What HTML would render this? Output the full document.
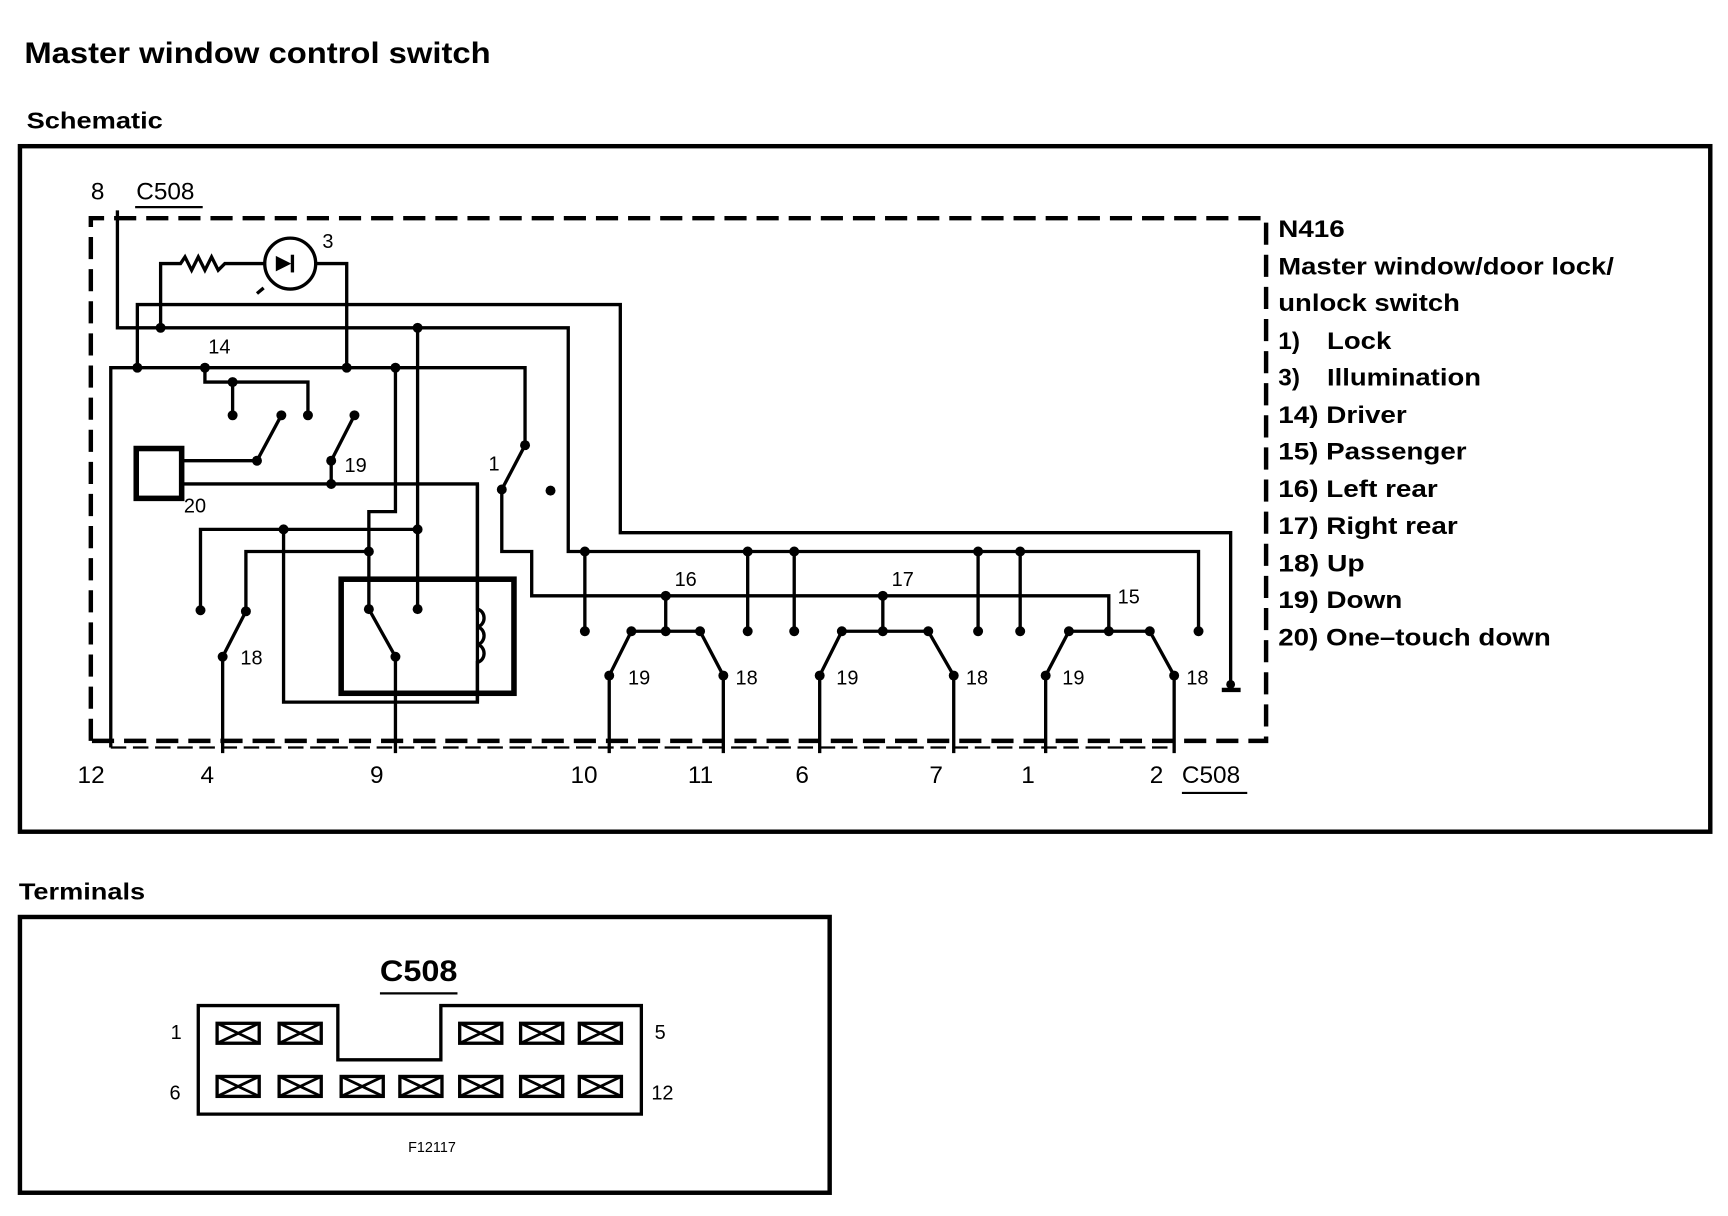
<!DOCTYPE html>
<html><head><meta charset="utf-8"><style>
html,body{margin:0;padding:0;background:#fff;}
svg{display:block;}
text{font-family:"Liberation Sans",Arial,sans-serif;fill:#000;}
.b{font-weight:bold;}
</style></head><body>
<svg width="1728" height="1216" viewBox="0 0 1560 1098" preserveAspectRatio="none" xmlns="http://www.w3.org/2000/svg">
<defs>
<g id="c" fill="none" stroke="#000"><rect x="0" y="0" width="38" height="18" stroke-width="3"/><path d="M0 0 L38 18 M38 0 L0 18" stroke-width="2.5"/></g>
</defs>
<rect width="1560" height="1098" fill="#fff"/>
<text x="22" y="57" class="b" font-size="27" textLength="421" lengthAdjust="spacingAndGlyphs">Master window control switch</text>
<text x="24" y="116" class="b" font-size="21" textLength="123" lengthAdjust="spacingAndGlyphs">Schematic</text>
<rect x="18" y="132" width="1526" height="619" fill="none" stroke="#000" stroke-width="4"/>
<path d="M82 669 V197 H1143 V669 Z" fill="none" stroke="#000" stroke-width="4" stroke-dasharray="20,9"/>
<path d="M100 675 H1060" fill="none" stroke="#000" stroke-width="2" stroke-dasharray="14,6"/>
<text x="82" y="180" font-size="22">8</text>
<text x="123" y="180" font-size="22">C508</text>
<line x1="122" y1="187" x2="183" y2="187" stroke="#000" stroke-width="2"/>
<g fill="none" stroke="#000" stroke-width="3">
<path d="M106 190 V296 H513 V498 H1082 V570"/>
<path d="M145 296 V238 H163 l4 -6 l6 12 l6 -12 l6 12 l6 -12 l6 12 l6 -6 H239"/>
<circle cx="262" cy="238" r="23"/>
<path d="M285 238 H313 V332"/>
<path d="M232 265 l6 -5" stroke-width="3"/>
<path d="M124 332 V275 H560 V481 H1111 V618"/>
<path d="M1103 623 H1120" stroke-width="4"/>
<path d="M100 675 V332 H474 V402"/>
<path d="M185 332 V345 H278 V375"/>
<path d="M210 345 V375"/>
<path d="M232 416 L254 375"/>
<rect x="123" y="405" width="41" height="45" stroke-width="5"/>
<path d="M164 416 H232"/>
<path d="M299 416 L320 375"/>
<path d="M299 416 V437"/>
<path d="M164 437 H431 V634 H256 V478"/>
<path d="M357 332 V462 H333 V550"/>
<path d="M377 296 V550"/>
<path d="M181 550 V478 H377"/>
<path d="M222 552 V498 H333"/>
<path d="M201 593 L222 552"/>
<path d="M201 593 V680"/>
<rect x="308" y="523" width="156" height="103" stroke-width="5"/>
<path d="M333 550 L357 593 V680"/>
<path d="M431 437 V550 c8 2 8 14 0 16 c8 2 8 14 0 16 c8 2 8 14 0 16 V634"/>
<path d="M453 442 L474 402"/>
<path d="M453 442 V498 H480 V538 H1001 V570"/>
<path d="M528 498 V570 M675 498 V570 M717 498 V570 M883 498 V570 M921 498 V570"/>
<path d="M601 538 V570 M570 570 H632 M570 570 L550 610 M632 570 L653 610 M550 610 V680 M653 610 V680"/>
<path d="M797 538 V570 M760 570 H838 M760 570 L740 610 M838 570 L861 610 M740 610 V680 M861 610 V680"/>
<path d="M965 570 H1038 M965 570 L944 610 M1038 570 L1060 610 M944 610 V680 M1060 610 V680"/>
</g>
<polygon points="249,231 249,245 263,238" fill="#000"/>
<line x1="264" y1="230" x2="264" y2="246" stroke="#000" stroke-width="3"/>
<g fill="#000">
<circle cx="145" cy="296" r="4.5"/><circle cx="377" cy="296" r="4.5"/>
<circle cx="124" cy="332" r="4.5"/><circle cx="185" cy="332" r="4.5"/><circle cx="313" cy="332" r="4.5"/><circle cx="357" cy="332" r="4.5"/>
<circle cx="210" cy="345" r="4.5"/>
<circle cx="210" cy="375" r="4.5"/><circle cx="254" cy="375" r="4.5"/><circle cx="278" cy="375" r="4.5"/><circle cx="320" cy="375" r="4.5"/>
<circle cx="232" cy="416" r="4.5"/><circle cx="299" cy="416" r="4.5"/><circle cx="299" cy="437" r="4.5"/>
<circle cx="474" cy="402" r="4.5"/><circle cx="453" cy="442" r="4.5"/><circle cx="497" cy="443" r="4.5"/>
<circle cx="256" cy="478" r="4.5"/><circle cx="377" cy="478" r="4.5"/><circle cx="333" cy="498" r="4.5"/>
<circle cx="181" cy="551" r="4.5"/><circle cx="222" cy="552" r="4.5"/><circle cx="201" cy="593" r="4.5"/>
<circle cx="333" cy="550" r="4.5"/><circle cx="377" cy="550" r="4.5"/><circle cx="357" cy="593" r="4.5"/>
<circle cx="528" cy="498" r="4.5"/><circle cx="675" cy="498" r="4.5"/><circle cx="717" cy="498" r="4.5"/><circle cx="883" cy="498" r="4.5"/><circle cx="921" cy="498" r="4.5"/>
<circle cx="601" cy="538" r="4.5"/><circle cx="797" cy="538" r="4.5"/>
<circle cx="528" cy="570" r="4.5"/><circle cx="675" cy="570" r="4.5"/><circle cx="717" cy="570" r="4.5"/><circle cx="883" cy="570" r="4.5"/><circle cx="921" cy="570" r="4.5"/><circle cx="1082" cy="570" r="4.5"/>
<circle cx="570" cy="570" r="4.5"/><circle cx="601" cy="570" r="4.5"/><circle cx="632" cy="570" r="4.5"/>
<circle cx="760" cy="570" r="4.5"/><circle cx="797" cy="570" r="4.5"/><circle cx="838" cy="570" r="4.5"/>
<circle cx="965" cy="570" r="4.5"/><circle cx="1001" cy="570" r="4.5"/><circle cx="1038" cy="570" r="4.5"/>
<circle cx="550" cy="610" r="4.5"/><circle cx="653" cy="610" r="4.5"/><circle cx="740" cy="610" r="4.5"/><circle cx="861" cy="610" r="4.5"/><circle cx="944" cy="610" r="4.5"/><circle cx="1060" cy="610" r="4.5"/>
<circle cx="1111" cy="618" r="4"/>
</g>
<g font-size="18">
<text x="291" y="224">3</text><text x="188" y="319">14</text><text x="311" y="426">19</text><text x="166" y="463">20</text>
<text x="441" y="425">1</text><text x="217" y="600">18</text>
<text x="609" y="529">16</text><text x="805" y="529">17</text><text x="1009" y="545">15</text>
<text x="567" y="618">19</text><text x="664" y="618">18</text><text x="755" y="618">19</text><text x="872" y="618">18</text><text x="959" y="618">19</text><text x="1071" y="618">18</text>
</g>
<g font-size="22">
<text x="70" y="707">12</text><text x="181" y="707">4</text><text x="334" y="707">9</text><text x="515" y="707">10</text><text x="621" y="707">11</text><text x="718" y="707">6</text><text x="839" y="707">7</text><text x="922" y="707">1</text><text x="1038" y="707">2</text><text x="1067" y="707">C508</text>
</g>
<line x1="1067" y1="716" x2="1126" y2="716" stroke="#000" stroke-width="2"/>
<g class="b" font-size="22" lengthAdjust="spacingAndGlyphs">
<text x="1154" y="214" textLength="60" lengthAdjust="spacingAndGlyphs">N416</text>
<text x="1154" y="248" textLength="303" lengthAdjust="spacingAndGlyphs">Master window/door lock/</text>
<text x="1154" y="281" textLength="164" lengthAdjust="spacingAndGlyphs">unlock switch</text>
<text x="1154" y="315">1)</text><text x="1198" y="315" textLength="58" lengthAdjust="spacingAndGlyphs">Lock</text>
<text x="1154" y="348">3)</text><text x="1198" y="348" textLength="139" lengthAdjust="spacingAndGlyphs">Illumination</text>
<text x="1154" y="382" textLength="116" lengthAdjust="spacingAndGlyphs">14) Driver</text>
<text x="1154" y="415" textLength="170" lengthAdjust="spacingAndGlyphs">15) Passenger</text>
<text x="1154" y="449" textLength="144" lengthAdjust="spacingAndGlyphs">16) Left rear</text>
<text x="1154" y="482" textLength="162" lengthAdjust="spacingAndGlyphs">17) Right rear</text>
<text x="1154" y="516" textLength="78" lengthAdjust="spacingAndGlyphs">18) Up</text>
<text x="1154" y="549" textLength="112" lengthAdjust="spacingAndGlyphs">19) Down</text>
<text x="1154" y="583" textLength="246" lengthAdjust="spacingAndGlyphs">20) One–touch down</text>
</g>
<text x="17" y="812" class="b" font-size="21" textLength="114" lengthAdjust="spacingAndGlyphs">Terminals</text>
<rect x="18" y="828" width="731" height="249" fill="none" stroke="#000" stroke-width="4"/>
<text x="343" y="886" class="b" font-size="27" textLength="70" lengthAdjust="spacingAndGlyphs">C508</text>
<line x1="343" y1="897" x2="413" y2="897" stroke="#000" stroke-width="2"/>
<polygon points="179,908 305,908 305,957 398,957 398,908 579,908 579,1006 179,1006" fill="none" stroke="#000" stroke-width="3"/>
<use href="#c" x="196" y="924"/><use href="#c" x="252" y="924"/><use href="#c" x="415" y="924"/><use href="#c" x="470" y="924"/><use href="#c" x="523" y="924"/>
<use href="#c" x="196" y="972"/><use href="#c" x="252" y="972"/><use href="#c" x="308" y="972"/><use href="#c" x="361" y="972"/><use href="#c" x="415" y="972"/><use href="#c" x="470" y="972"/><use href="#c" x="523" y="972"/>
<g font-size="18">
<text x="154" y="938">1</text><text x="591" y="938">5</text><text x="153" y="993">6</text><text x="588" y="993">12</text>
</g>
<text x="390" y="1040" font-size="13" text-anchor="middle">F12117</text>
</svg>
</body></html>
